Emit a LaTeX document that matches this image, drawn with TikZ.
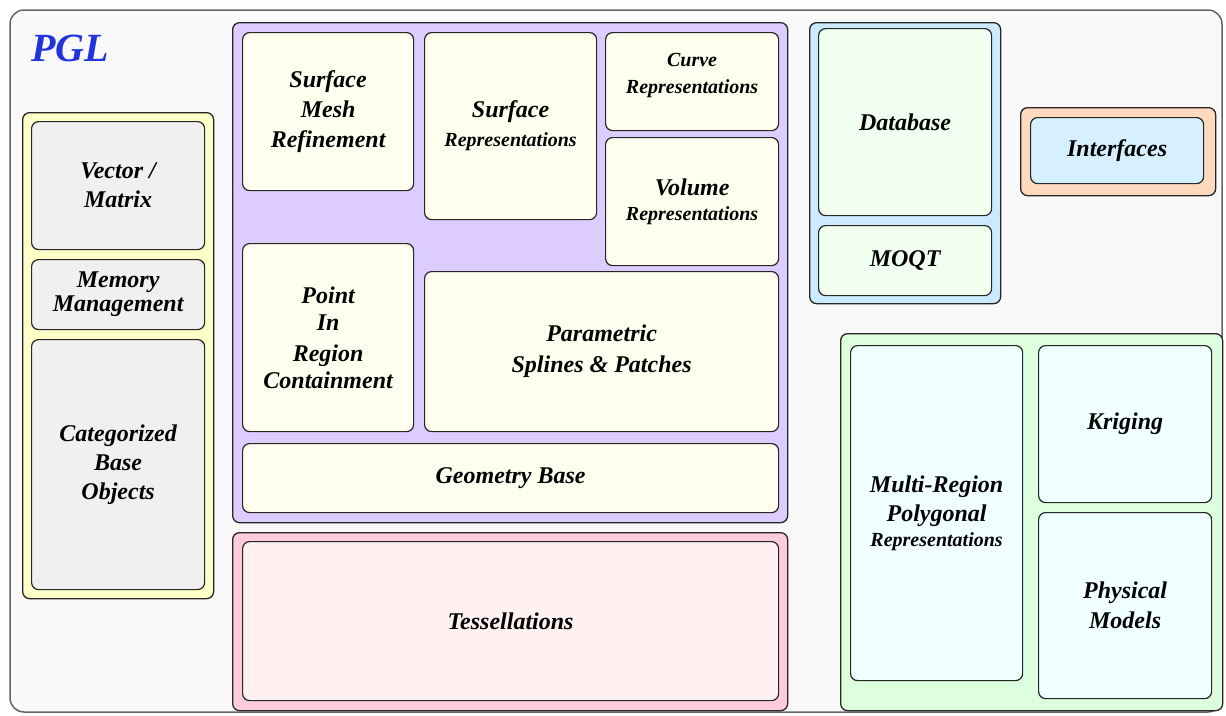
\documentclass[tikz,border=0pt]{standalone}
\usepackage{fontspec}
\setmainfont{Liberation Serif}
\usepackage{tikz}
\definecolor{framebg}{RGB}{249,249,249}
\definecolor{yellowgrp}{RGB}{255,255,200}
\definecolor{graybox}{RGB}{240,240,240}
\definecolor{purplegrp}{RGB}{221,204,255}
\definecolor{ivorybox}{RGB}{255,255,240}
\definecolor{pinkgrp}{RGB}{255,204,221}
\definecolor{pinkbox}{RGB}{255,240,242}
\definecolor{bluegrp}{RGB}{204,234,255}
\definecolor{mintbox}{RGB}{240,255,240}
\definecolor{peachgrp}{RGB}{255,218,190}
\definecolor{skybox}{RGB}{214,240,255}
\definecolor{greengrp}{RGB}{221,255,221}
\definecolor{icebox}{RGB}{240,255,255}
\definecolor{pglblue}{RGB}{34,51,221}
\newcommand{\smallrepfont}{\fontsize{20}{24}\selectfont}
\tikzset{
	grp/.style={draw=black!85, line width=1.3pt, rounded corners=7pt, anchor=north west, inner sep=0pt},
	blk/.style={draw=black!85, line width=1.2pt, rounded corners=7pt, anchor=north west, align=center, inner sep=2pt,
		font=\bfseries\itshape\fontsize{24}{30}\selectfont},
}

\begin{document}
\begin{tikzpicture}[x=1pt,y=-1pt]
	\useasboundingbox (0,0) rectangle (1226,715);
	\draw[black!60, line width=1.5pt, fill=framebg, rounded corners=14pt] (10,10) rectangle (1222,712);
	\node[text=pglblue, font=\bfseries\itshape\fontsize{40}{44}\selectfont, anchor=west] at (28,48) (pgl) {PGL};
	% left column
	\node[grp, fill=yellowgrp, minimum width=191pt, minimum height=486pt] at (22,112) (base) {};
	\node[blk, fill=graybox, minimum width=173pt, minimum height=128pt] at (31,121) (vec) {Vector /\\[-1pt]Matrix};
	\node[blk, fill=graybox, minimum width=173pt, minimum height=70pt] at (31,259) (mem) {Memory\\[-6pt]Management};
	\node[blk, fill=graybox, minimum width=173pt, minimum height=250pt] at (31,339) (cbo) {Categorized\\[-1pt]Base\\[-1pt]Objects};
	% geometry
	\node[grp, fill=purplegrp, minimum width=555pt, minimum height=500pt] at (232,22) (geo) {};
	\node[blk, fill=ivorybox, minimum width=171pt, minimum height=158pt] at (242,32) (smr) {Surface\\Mesh\\Refinement};
	\node[blk, fill=ivorybox, minimum width=172pt, minimum height=187pt] at (424,32) (srep) {Surface\\[-1pt]{\smallrepfont Representations}};
	\node[blk, fill=ivorybox, minimum width=173pt, minimum height=98pt] at (605,32) (crep) {{\smallrepfont Curve}\\[-3pt]{\smallrepfont Representations}\\[-14pt]};
	\node[blk, fill=ivorybox, minimum width=173pt, minimum height=128pt] at (605,137) (vrep) {Volume\\[-5pt]{\smallrepfont Representations}};
	\node[blk, fill=ivorybox, minimum width=171pt, minimum height=188pt] at (242,243) (pir) {Point\\[-3pt]In\\[1pt]Region\\[-3pt]Containment};
	\node[blk, fill=ivorybox, minimum width=354pt, minimum height=160pt] at (424,271) (spl) {Parametric\\[1pt]Splines \& Patches};
	\node[blk, fill=ivorybox, minimum width=536pt, minimum height=69pt] at (242,443) (gbase) {Geometry Base};
	% tessellations
	\node[grp, fill=pinkgrp, minimum width=555pt, minimum height=178pt] at (232,532) (tgrp) {};
	\node[blk, fill=pinkbox, minimum width=536pt, minimum height=159pt] at (242,541) (tess) {Tessellations};
	% database
	\node[grp, fill=bluegrp, minimum width=191pt, minimum height=281pt] at (809,22) (dgrp) {};
	\node[blk, fill=mintbox, minimum width=173pt, minimum height=187pt] at (818,28) (db) {Database};
	\node[blk, fill=mintbox, minimum width=173pt, minimum height=70pt] at (818,225) (moqt) {MOQT};
	% interfaces
	\node[grp, fill=peachgrp, minimum width=195pt, minimum height=88pt] at (1020,107) (igrp) {};
	\node[blk, fill=skybox, minimum width=173pt, minimum height=66pt] at (1030,117) (intf) {Interfaces};
	% polygonal
	\node[grp, fill=greengrp, minimum width=382pt, minimum height=377pt] at (840,333) (pgrp) {};
	\node[blk, fill=icebox, minimum width=172pt, minimum height=335pt] at (850,345) (mrp) {Multi-Region\\[-1pt]Polygonal\\[-5pt]{\smallrepfont Representations}};
	\node[blk, fill=icebox, minimum width=173pt, minimum height=157pt] at (1038,345) (krig) {Kriging};
	\node[blk, fill=icebox, minimum width=173pt, minimum height=186pt] at (1038,512) (phys) {Physical\\Models};
\end{tikzpicture}
\end{document}
